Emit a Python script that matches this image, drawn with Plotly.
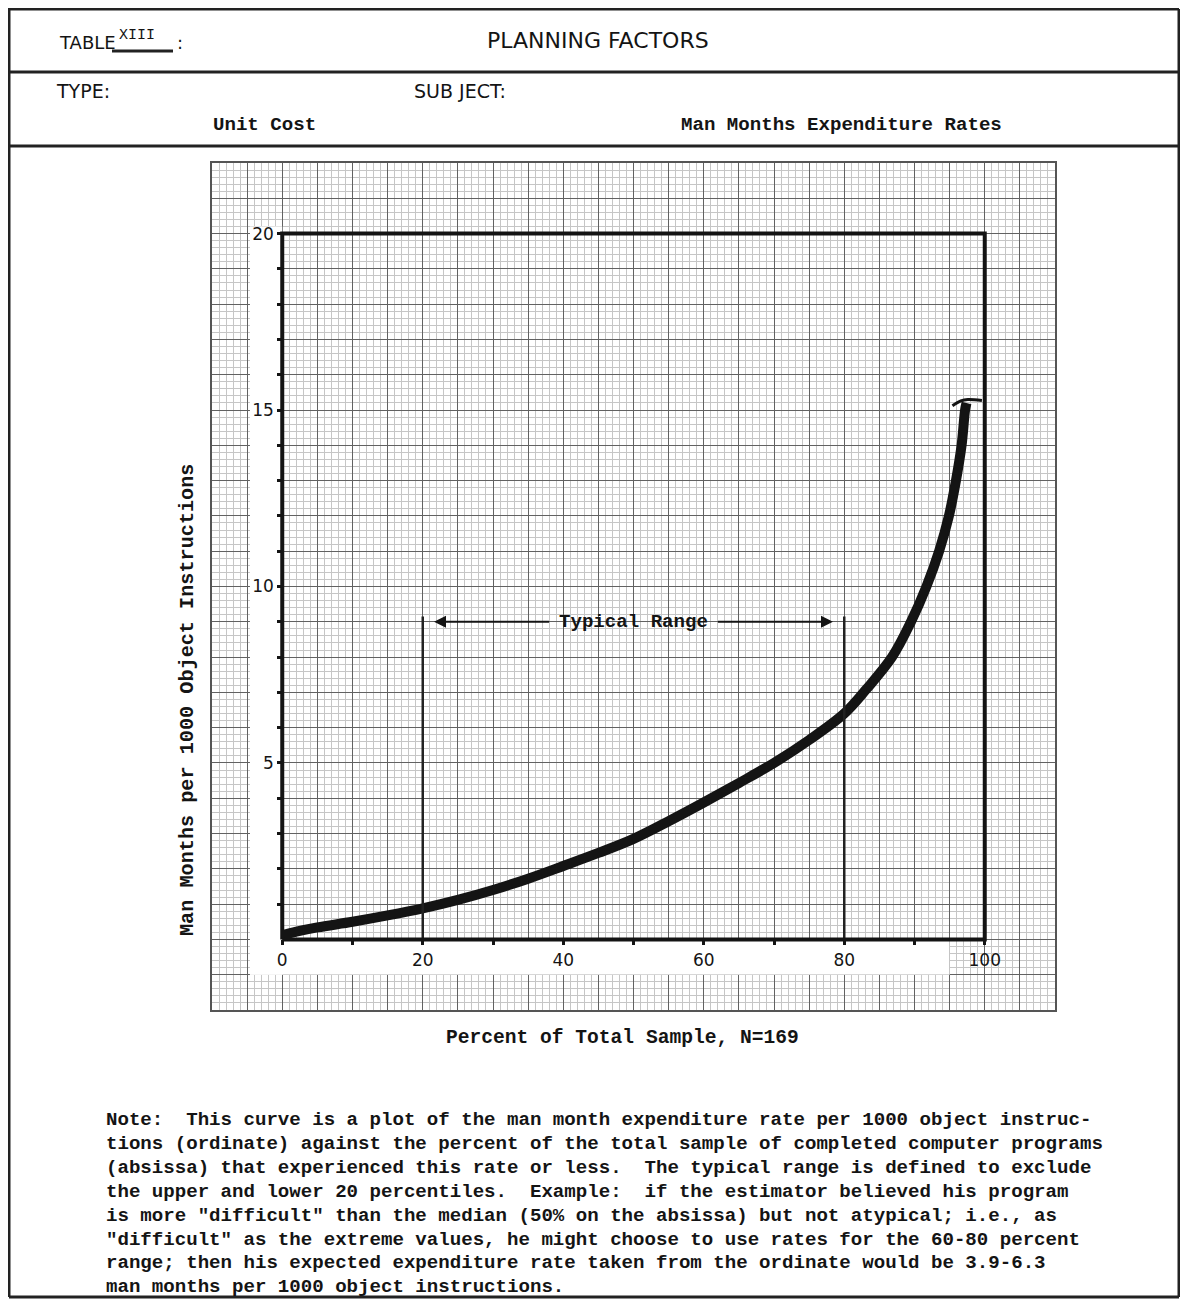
import plotly.graph_objects as go

# ---------------- data ----------------
pct_sample = [0, 2, 5, 10, 15, 20, 25, 30, 35, 40, 45, 50, 55, 60, 65, 70, 75,
              80, 83.1, 86.8, 89.5, 91.7, 93.5, 94.9, 95.9, 96.7, 97.2, 97.4]
mm_rate = [0.12, 0.22, 0.34, 0.5, 0.68, 0.88, 1.12, 1.4, 1.72, 2.08, 2.45, 2.85,
           3.35, 3.88, 4.43, 5.0, 5.65, 6.4, 7.08, 8.0, 9.0, 10.0,
           11.0, 12.0, 13.0, 14.0, 15.0, 15.2]
hook_x = [95.4, 96.6, 97.6, 99.6]
hook_y = [15.12, 15.26, 15.3, 15.27]

frame_x = [0, 100, 100, 0, 0]
frame_y = [0, 0, 20, 20, 0]
typical_range = [20, 80]
typical_top = 9.15
arrow_y = 9.0

x_tick_vals = [0, 20, 40, 60, 80, 100]
y_tick_vals = [5, 10, 15, 20]

note_lines = [
    "Note:\u00a0 This curve is a plot of the man month expenditure rate per 1000 object instruc-",
    "tions (ordinate) against the percent of the total sample of completed computer programs",
    "(absissa) that experienced this rate or less.\u00a0 The typical range is defined to exclude",
    "the upper and lower 20 percentiles.\u00a0 Example:\u00a0 if the estimator believed his program",
    "is more \"difficult\" than the median (50% on the absissa) but not atypical; i.e., as",
    "\"difficult\" as the extreme values, he might choose to use rates for the 60-80 percent",
    "range; then his expected expenditure rate taken from the ordinate would be 3.9-6.3",
    "man months per 1000 object instructions.",
]

# ---------------- layout geometry ----------------
OFF = 8                      # browser body margin
W, H = 1188 - OFF, 1307 - 2 * OFF
ML, MR, MT, MB = 204, 133, 155, 289
PW, PH = W - ML - MR, H - MT - MB
X_RANGE = [-10, 110]
Y_RANGE = [-2, 22]


def px(x):
    return (x - OFF - ML) / PW


def py(y):
    return (H - MB - (y - OFF)) / PH


MONO = "Liberation Mono"
SANS = "DejaVu Sans"
INK = "#141414"

fig = go.Figure()

# curve
fig.add_trace(go.Scatter(x=pct_sample, y=mm_rate, mode="lines",
                         line=dict(color=INK, width=10, shape="spline", smoothing=1.0),
                         hoverinfo="skip", showlegend=False))
fig.add_trace(go.Scatter(x=hook_x, y=hook_y, mode="lines",
                         line=dict(color=INK, width=3, shape="spline"),
                         hoverinfo="skip", showlegend=False))
# typical range verticals
for xv in typical_range:
    fig.add_trace(go.Scatter(x=[xv, xv], y=[0, typical_top], mode="lines",
                             line=dict(color="#222", width=2.5),
                             hoverinfo="skip", showlegend=False))
# frame (on label axes)
fig.add_trace(go.Scatter(x=frame_x, y=frame_y, mode="lines", xaxis="x2", yaxis="y2",
                         line=dict(color=INK, width=4),
                         hoverinfo="skip", showlegend=False))

# white strips under tick labels (hide the graph paper)
fig.add_shape(type="rect", xref="x", yref="y", x0=-4.6, x1=0, y0=-1, y1=20.2,
              fillcolor="white", line=dict(width=0), layer="between")
fig.add_shape(type="rect", xref="x", yref="y", x0=-4.6, x1=95, y0=-1, y1=0,
              fillcolor="white", line=dict(width=0), layer="between")

# page borders
border = dict(color="#222", width=3)
RB, BB = 1179, 1297
for (x0, y0, x1, y1) in [(8, 9, RB, 9), (8, 72, RB, 72), (8, 146, RB, 146),
                         (9, 9, 9, BB), (RB, 9, RB, BB), (9, BB, RB, BB)]:
    fig.add_shape(type="line", xref="paper", yref="paper",
                  x0=px(x0), y0=py(y0), x1=px(x1), y1=py(y1), line=border)
# underline for table number
fig.add_shape(type="line", xref="paper", yref="paper",
              x0=px(112), y0=py(51), x1=px(173), y1=py(51), line=dict(color="#222", width=3))

ann = []


def txt(text, x, y, size, family, xanchor="left", angle=0, bold=False):
    ann.append(dict(text=("<b>%s</b>" % text) if bold else text, x=px(x), y=py(y),
                    xref="paper", yref="paper", xanchor=xanchor, yanchor="middle",
                    showarrow=False, textangle=angle,
                    font=dict(family=family, size=size, color=INK)))


MS = 19.1
txt("TABLE", 57, 43, 18, SANS)
txt("XIII", 117, 35, 15, MONO)
txt(":", 175, 43, 18, SANS)
txt("PLANNING FACTORS", 598, 41, 22, SANS, xanchor="center")
txt("TYPE:", 54, 91, 19, SANS)
txt("SUB JECT:", 412, 91, 19, SANS)
txt("Unit Cost", 211, 125, MS, MONO, bold=True)
txt("Man Months Expenditure Rates", 679, 125, MS, MONO, bold=True)
txt("Percent of Total Sample, N=169", 622, 1038, 19.6, MONO, xanchor="center", bold=True)
txt("Man Months per 1000 Object Instructions", 188, 700, 20.2, MONO,
    xanchor="center", angle=-90, bold=True)
line_y = [1120, 1144, 1168, 1192, 1216, 1240, 1263, 1287]
for t, yy in zip(note_lines, line_y):
    txt(t, 104, yy, MS, MONO, bold=True)

# Typical range label + arrows
ann.append(dict(text="<b>Typical Range</b>", x=50, y=arrow_y, xref="x", yref="y",
                showarrow=False, font=dict(family=MONO, size=MS, color=INK)))
ann.append(dict(text="", x=21.6, y=arrow_y, ax=38.2, ay=arrow_y, xref="x", yref="y",
                axref="x", ayref="y", showarrow=True, arrowhead=2, arrowsize=1.2,
                arrowwidth=2, arrowcolor=INK))
ann.append(dict(text="", x=78.4, y=arrow_y, ax=61.8, ay=arrow_y, xref="x", yref="y",
                axref="x", ayref="y", showarrow=True, arrowhead=2, arrowsize=1.2,
                arrowwidth=2, arrowcolor=INK))

tickfont = dict(family=SANS, size=17, color=INK)
fig.update_layout(
    width=W, height=H,
    margin=dict(l=ML, r=MR, t=MT, b=MB, pad=0),
    paper_bgcolor="white", plot_bgcolor="white",
    showlegend=False,
    annotations=ann,
    xaxis=dict(range=X_RANGE, dtick=5, tick0=0, showgrid=True, gridcolor="#626262",
               gridwidth=1, zeroline=False, showticklabels=False, ticks="",
               showline=True, mirror=True, linecolor="#555", linewidth=1.5,
               minor=dict(dtick=1, showgrid=True, gridcolor="#c6c6c6", gridwidth=0.6),
               fixedrange=True),
    yaxis=dict(range=Y_RANGE, dtick=1, tick0=0, showgrid=True, gridcolor="#626262",
               gridwidth=1, zeroline=False, showticklabels=False, ticks="",
               showline=True, mirror=True, linecolor="#555", linewidth=1.5,
               minor=dict(dtick=0.2, showgrid=True, gridcolor="#c6c6c6", gridwidth=0.6),
               fixedrange=True),
    xaxis2=dict(range=X_RANGE, overlaying="x", anchor="free",
                position=(0 - Y_RANGE[0]) / (Y_RANGE[1] - Y_RANGE[0]),
                side="bottom", tickmode="array", tickvals=x_tick_vals,
                ticktext=[str(v) for v in x_tick_vals], tickfont=tickfont,
                ticks="outside", ticklen=5, tickwidth=3, tickcolor=INK,
                minor=dict(tickmode="array", tickvals=[10, 30, 50, 70, 90],
                           ticks="outside", ticklen=5, tickwidth=3, tickcolor=INK,
                           showgrid=False),
                showgrid=False, zeroline=False, showline=False, fixedrange=True),
    yaxis2=dict(range=Y_RANGE, overlaying="y", anchor="free",
                position=(0 - X_RANGE[0]) / (X_RANGE[1] - X_RANGE[0]),
                side="left", tickmode="array", tickvals=y_tick_vals,
                ticktext=[str(v) for v in y_tick_vals], tickfont=tickfont,
                ticks="outside", ticklen=5, tickwidth=3, tickcolor=INK,
                minor=dict(tickmode="array",
                           tickvals=[v for v in range(1, 20) if v % 5],
                           ticks="outside", ticklen=5, tickwidth=3, tickcolor=INK,
                           showgrid=False),
                showgrid=False, zeroline=False, showline=False, fixedrange=True),
)

fig.write_html("out.html")
